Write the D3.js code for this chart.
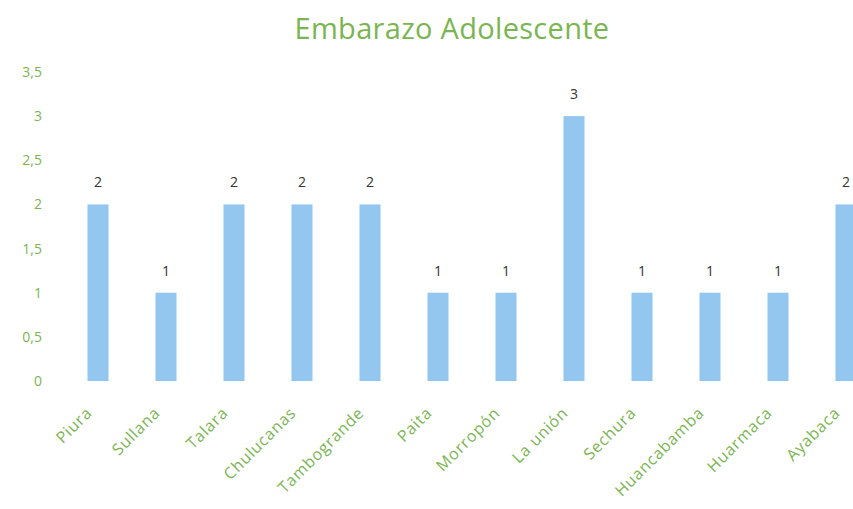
<!DOCTYPE html>
<html>
<head>
<meta charset="utf-8">
<script src="https://cdn.jsdelivr.net/npm/d3@7"></script>
<style>
  body { margin: 0; background: #fff; }
  svg { display: block; font-family: "Open Sans", "Noto Sans", sans-serif; }
</style>
</head>
<body>
<div id="chart"></div>
<script>
const categories = ["Piura", "Sullana", "Talara", "Chulucanas", "Tambogrande", "Paita",
  "Morropón", "La unión", "Sechura", "Huancabamba", "Huarmaca", "Ayabaca"];
const values = [2, 1, 2, 2, 2, 1, 1, 3, 1, 1, 1, 2];
const yTicks = [0, 0.5, 1, 1.5, 2, 2.5, 3, 3.5];
const title = "Embarazo Adolescente";

const width = 853, height = 509;
const green = "#7ab552";
const barColor = "#93c7ef";

const svg = d3.select("#chart").append("svg")
    .attr("width", width)
    .attr("height", height);

// scales, the last category runs off the right edge like the scan
const x = d3.scaleBand().domain(categories).range([64, 880]).paddingInner(0.69).paddingOuter(0.345);
const y = d3.scaleLinear().domain([0, 3.5]).range([381, 72]);

svg.append("text")
    .attr("x", 452)
    .attr("y", 39)
    .attr("text-anchor", "middle")
    .attr("fill", green)
    .style("font-size", "29px")
    .style("letter-spacing", "0.3px")
    .text(title);

// y axis, labels only
const yAxis = d3.axisLeft(y)
    .tickValues(yTicks)
    .tickSize(0)
    .tickPadding(0)
    .tickFormat(d => String(d).replace(".", ","));
svg.append("g")
    .attr("transform", "translate(42,0)")
    .call(yAxis)
    .call(g => g.select(".domain").remove())
    .call(g => g.selectAll("text").attr("fill", green).style("font-size", "14px")
        .style("font-family", "'Open Sans', sans-serif"));

// bars
svg.append("g").selectAll("rect")
    .data(values)
    .join("rect")
    .attr("x", (d, i) => x(categories[i]))
    .attr("y", d => y(d))
    .attr("width", x.bandwidth())
    .attr("height", d => y(0) - y(d))
    .attr("fill", barColor);

// value labels
svg.append("g").selectAll("text")
    .data(values)
    .join("text")
    .attr("x", (d, i) => x(categories[i]) + x.bandwidth() / 2)
    .attr("y", d => y(d) - 17)
    .attr("text-anchor", "middle")
    .attr("fill", "#333")
    .style("font-size", "14px")
    .text(d => d);

// category labels rotated
svg.append("g").selectAll("text")
    .data(categories)
    .join("text")
    .attr("transform", d => `translate(${x(d) + x.bandwidth() / 2 - 5},${414}) rotate(-45)`)
    .attr("text-anchor", "end")
    .attr("fill", green)
    .style("font-size", "16px")
    .style("letter-spacing", "0.8px")
    .text(d => d);
</script>
</body>
</html>
